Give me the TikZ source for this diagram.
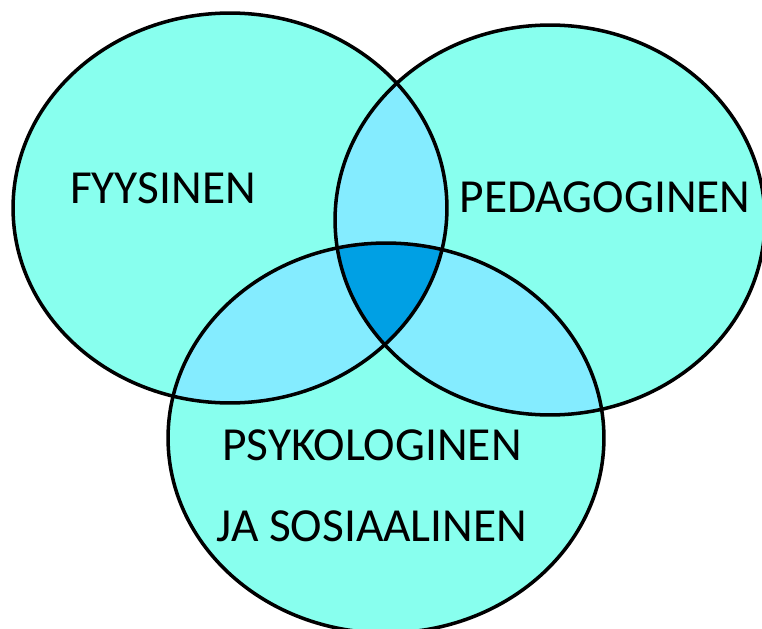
\documentclass[tikz,border=0pt]{standalone}
\usepackage{fontspec}
\setmainfont{Carlito}
\definecolor{outerfill}{RGB}{136,255,238}
\definecolor{pairfill}{RGB}{132,236,255}
\definecolor{corefill}{RGB}{0,160,228}

\begin{document}
\begin{tikzpicture}[x=0.02cm, y=-0.02cm,
    setline/.style={draw=black, line width=2pt},
    settext/.style={font=\fontsize{27}{32}\selectfont, text=black}
]
\useasboundingbox (0,0) rectangle (762,629);

% set centres
\coordinate (phys) at (230,208);
\coordinate (peda) at (550,220);
\coordinate (psyk) at (386,438);

% base fills
\fill[outerfill] (phys) ellipse [x radius=4.34cm, y radius=3.9cm];
\fill[outerfill] (peda) ellipse [x radius=4.3cm, y radius=3.9cm];
\fill[outerfill] (psyk) ellipse [x radius=4.36cm, y radius=3.9cm];

% pairwise overlaps
\begin{scope}
    \clip (phys) ellipse [x radius=4.34cm, y radius=3.9cm];
    \fill[pairfill] (peda) ellipse [x radius=4.3cm, y radius=3.9cm];
    \fill[pairfill] (psyk) ellipse [x radius=4.36cm, y radius=3.9cm];
\end{scope}
\begin{scope}
    \clip (peda) ellipse [x radius=4.3cm, y radius=3.9cm];
    \fill[pairfill] (psyk) ellipse [x radius=4.36cm, y radius=3.9cm];
\end{scope}

% common centre
\begin{scope}
    \clip (phys) ellipse [x radius=4.34cm, y radius=3.9cm];
    \clip (peda) ellipse [x radius=4.3cm, y radius=3.9cm];
    \fill[corefill] (psyk) ellipse [x radius=4.36cm, y radius=3.9cm];
\end{scope}

% outlines
\draw[setline] (phys) ellipse [x radius=4.34cm, y radius=3.9cm];
\draw[setline] (peda) ellipse [x radius=4.3cm, y radius=3.9cm];
\draw[setline] (psyk) ellipse [x radius=4.36cm, y radius=3.9cm];

% texts
\node[settext] (fyys)  at (163,188) {FYYSINEN};
\node[settext] (pedat) at (605,197) {PEDAGOGINEN};
\node[settext] (psykt) at (372,445) {PSYKOLOGINEN};
\node[settext] (sost)  at (372,526) {JA SOSIAALINEN};

\end{tikzpicture}
\end{document}
